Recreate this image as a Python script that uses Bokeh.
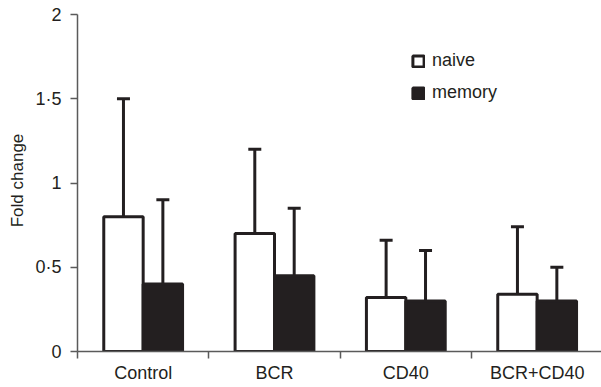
import numpy as np
from bokeh.plotting import figure
from bokeh.models import (ColumnDataSource, FixedTicker, Whisker, TeeHead,
                          Legend, LegendItem)
from bokeh.embed import file_html
from bokeh.resources import INLINE

categories = ["Control", "BCR", "CD40", "BCR+CD40"]
naive_mean = [0.80, 0.70, 0.32, 0.34]
naive_err = [1.50, 1.20, 0.66, 0.74]
memory_mean = [0.40, 0.45, 0.30, 0.30]
memory_err = [0.90, 0.85, 0.60, 0.50]
y_ticks = [0, 0.5, 1, 1.5, 2]
y_tick_labels = ["0", "0·5", "1", "1·5", "2"]

INK = "#231f20"
AXIS = "#5a5a5a"
FONT = "Liberation Sans"
FS = "17px"
FS_X = "18px"

idx = np.arange(len(categories))
bw = 0.3
src_n = ColumnDataSource(dict(x=idx + 0.5 - bw / 2, top=naive_mean, err=naive_err))
src_m = ColumnDataSource(dict(x=idx + 0.5 + bw / 2, top=memory_mean, err=memory_err))

p = figure(width=601, height=387, x_range=(0, 3.99), y_range=(0, 2.03),
           output_backend="svg", toolbar_location=None,
           min_border_left=77, min_border_right=0, min_border_top=9,
           min_border_bottom=36)
p.grid.visible = False
p.outline_line_color = None

for src in (src_n, src_m):
    p.add_layout(Whisker(source=src, base="x", upper="err", lower="top",
                         dimension="height", line_color=INK, line_width=3,
                         upper_head=TeeHead(size=13, line_width=3, line_color=INK),
                         lower_head=None))

rn = p.vbar(x="x", top="top", width=bw, bottom=0, source=src_n,
            fill_color="white", line_color=INK, line_width=3)
rm = p.vbar(x="x", top="top", width=bw, bottom=0, source=src_m,
            fill_color=INK, line_color=INK, line_width=3)

# x axis
xa = p.xaxis[0]
xa.ticker = FixedTicker(ticks=list(idx + 0.5), minor_ticks=list(range(len(categories) + 1)))
xa.major_label_overrides = {float(i + 0.5): c for i, c in enumerate(categories)}
xa.major_tick_out = 0
xa.major_tick_in = 0
xa.minor_tick_out = 7
xa.minor_tick_in = 0
xa.minor_tick_line_color = AXIS
xa.minor_tick_line_width = 1.5
xa.axis_line_color = AXIS
xa.axis_line_width = 1.5
xa.major_label_standoff = 4
xa.major_label_text_font = FONT
xa.major_label_text_font_size = FS_X
xa.major_label_text_color = INK

# y axis
ya = p.yaxis[0]
ya.ticker = FixedTicker(ticks=y_ticks, minor_ticks=[])
ya.major_label_overrides = {float(t): l for t, l in zip(y_ticks, y_tick_labels)}
ya.bounds = (0, 2)
ya.major_tick_out = 7
ya.major_tick_in = 0
ya.major_tick_line_color = AXIS
ya.major_tick_line_width = 1.5
ya.axis_line_color = AXIS
ya.axis_line_width = 1.5
ya.major_label_standoff = 9
ya.major_label_text_font = FONT
ya.major_label_text_font_size = FS_X
ya.major_label_text_color = INK
ya.axis_label = "Fold change"
ya.axis_label_text_font = FONT
ya.axis_label_text_font_size = FS
ya.axis_label_text_font_style = "normal"
ya.axis_label_text_color = INK
ya.axis_label_standoff = 5

legend = Legend(items=[LegendItem(label="naive", renderers=[rn]),
                       LegendItem(label="memory", renderers=[rm])],
                location=(334, 248), padding=0, margin=0, spacing=11,
                glyph_width=14, glyph_height=14, label_height=14,
                label_standoff=7, border_line_color=None,
                background_fill_alpha=0,
                label_text_font=FONT, label_text_font_size=FS_X,
                label_text_color=INK)
p.add_layout(legend)

open("out.html", "w").write(file_html(p, INLINE))
